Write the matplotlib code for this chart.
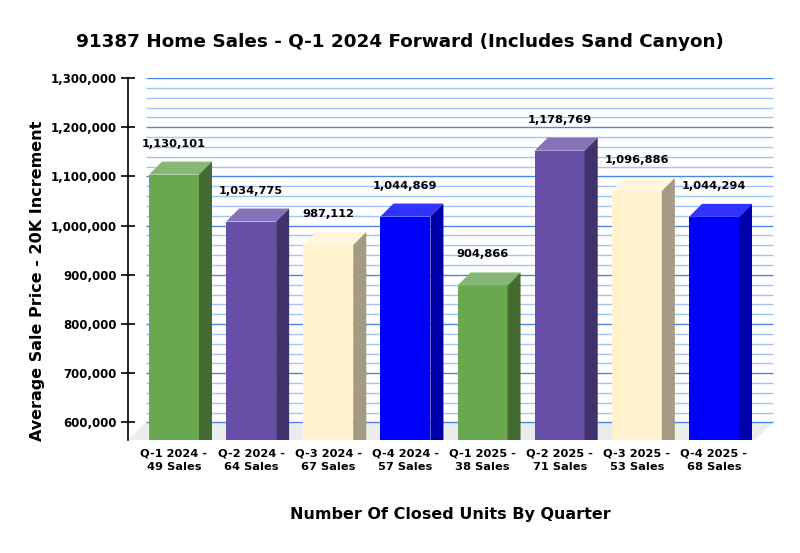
import matplotlib
matplotlib.use("Agg")
import matplotlib.pyplot as plt
from matplotlib.patches import Polygon
import numpy as np

categories = ["Q-1 2024 -\n49 Sales", "Q-2 2024 -\n64 Sales", "Q-3 2024 -\n67 Sales",
              "Q-4 2024 -\n57 Sales", "Q-1 2025 -\n38 Sales", "Q-2 2025 -\n71 Sales",
              "Q-3 2025 -\n53 Sales", "Q-4 2025 -\n68 Sales"]
values = [1130101, 1034775, 987112, 1044869, 904866, 1178769, 1096886, 1044294]
value_labels = ["1,130,101", "1,034,775", "987,112", "1,044,869",
                "904,866", "1,178,769", "1,096,886", "1,044,294"]
y_ticks = [600000, 700000, 800000, 900000, 1000000, 1100000, 1200000, 1300000]
y_tick_labels = ["600,000", "700,000", "800,000", "900,000", "1,000,000",
                 "1,100,000", "1,200,000", "1,300,000"]
title = "91387 Home Sales - Q-1 2024 Forward (Includes Sand Canyon)"
xlabel = "Number Of Closed Units By Quarter"
ylabel = "Average Sale Price - 20K Increment"

front_c = ["#6aa84f", "#674ea7", "#fff2cc", "#0000ff"] * 2
side_c = ["#436b32", "#40326a", "#a59b83", "#0000aa"] * 2
top_c = ["#86b875", "#8672b9", "#fff6dc", "#3333ff"] * 2

fig = plt.figure(figsize=(8, 5.53), dpi=100)
ax = fig.add_axes([128/800, 1-440/553, (780-128)/800, (440-78)/553])

px_x = 77.14            # pixels per category
px_y = 49.2 / 100000    # pixels per value unit
ymin = 600000 - 17.5 / px_y
ax.set_xlim(-46/px_x, (780-174)/px_x)
ax.set_ylim(ymin, 1300000)

hw = 25 / px_x
bdx = 13 / px_x
bdy = 13 / px_y
fdx = 18 / px_x

# floor
x_fl = -46/px_x
x_fr = (755-174)/px_x
floor = Polygon([(x_fl, ymin), (x_fr, ymin), (x_fr+fdx, 600000), (x_fl+fdx, 600000)],
                closed=True, facecolor="#ececec", edgecolor="none", zorder=1)
ax.add_patch(floor)

# back wall gridlines
gx0, gx1 = x_fl + fdx, x_fr + fdx
for v in range(600000, 1300001, 20000):
    major = v % 100000 == 0
    ax.plot([gx0, gx1], [v, v], color="#4a86e8" if major else "#a4c2f4",
            lw=1.0, zorder=2 if major else 1.5, solid_capstyle="butt")

for i, v in enumerate(values):
    x0, x1 = i - hw, i + hw
    ax.add_patch(Polygon([(x0, ymin), (x1, ymin), (x1, v-bdy), (x0, v-bdy)],
                         facecolor=front_c[i], edgecolor="none", zorder=5))
    ax.add_patch(Polygon([(x0, v-bdy), (x1, v-bdy), (x1+bdx, v), (x0+bdx, v)],
                         facecolor=top_c[i], edgecolor="none", zorder=5))
    ax.add_patch(Polygon([(x1, ymin), (x1+bdx, ymin), (x1+bdx, v), (x1, v-bdy)],
                         facecolor=side_c[i], edgecolor="none", zorder=5))
    ax.text(i, v + 15/px_y, value_labels[i], ha="center", va="baseline",
            fontsize=8.2, fontweight="bold", zorder=6)

for s in ["top", "right", "bottom"]:
    ax.spines[s].set_visible(False)
ax.spines["left"].set_linewidth(1.2)
ax.set_yticks(y_ticks)
ax.set_yticklabels(y_tick_labels, fontsize=8.5, fontweight="bold")
ax.tick_params(axis="y", direction="inout", length=10, width=1.2, pad=3)
ax.set_xticks(range(len(categories)))
ax.set_xticklabels(categories, fontsize=8.2, fontweight="bold", linespacing=1.45)
ax.tick_params(axis="x", length=0, pad=6)

fig.text(0.5, 1-42/553, title, ha="center", va="center", fontsize=13.2, fontweight="bold")
fig.text(450/800, 1-515/553, xlabel, ha="center", va="center", fontsize=11.5, fontweight="bold")
fig.text(38/800, 1-281/553, ylabel, ha="center", va="center", rotation=90,
         fontsize=11.5, fontweight="bold")

fig.savefig("out.png", dpi=100)
